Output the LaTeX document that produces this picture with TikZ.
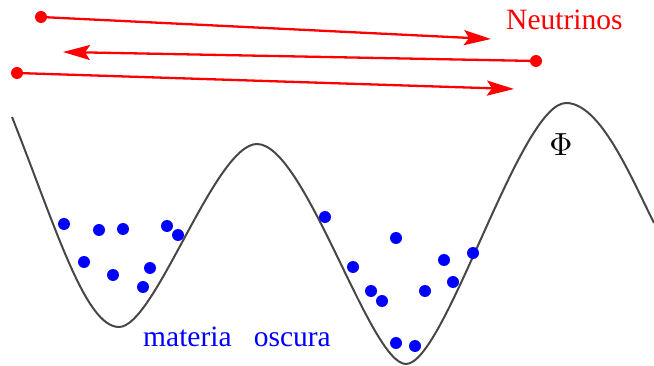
\documentclass[tikz,border=0pt]{standalone}
\usepackage{fontspec}
\setmainfont{Liberation Serif}
\newfontfamily\timesfont{Liberation Serif}
\usetikzlibrary{arrows.meta}

\tikzset{
    nu/.style={draw=red, line width=2.3pt, -{Stealth[length=27pt, width=15pt, inset=5pt]}},
    big/.style={font=\timesfont\fontsize{29.5}{32}\selectfont, inner sep=0pt},
}

\begin{document}
\begin{tikzpicture}[x=1pt, y=-1pt]
    \useasboundingbox (0,0) rectangle (654,366);

    \coordinate (s1) at (41,17);
    \coordinate (e1) at (491,39);

    \coordinate (s2) at (536,61);
    \coordinate (e2) at (63,52);

    \coordinate (s3) at (17,73);
    \coordinate (e3) at (514,89);

%    potential wells
    \coordinate (p0) at (12,117);
    \coordinate (p1) at (119,327);
    \coordinate (p2) at (257,144);
    \coordinate (p3) at (406,364);
    \coordinate (p4) at (566,103);
    \coordinate (p5) at (654,223);

    \draw[line width=2pt, black!72] (p0) .. controls (55,225) and (85,327) .. (p1)
        .. controls (155,327) and (215,144) .. (p2)
        .. controls (305,144) and (370,364) .. (p3)
        .. controls (445,364) and (520,103) .. (p4)
        .. controls (600,103) and (630,175) .. (p5);

    \draw[nu] (s1) -- (e1);
    \draw[nu] (s2) -- (e2);
    \draw[nu] (s3) -- (e3);
    \foreach \p in {s1,s2,s3} {
        \fill[red] (\p) circle (6pt);
    }

    \node[big, red, anchor=base west] (neu) at (506,30) {Neutrinos};
    \node[inner sep=0pt, scale=3.2] (phi) at (561,145) {$\Phi$};
    \node[big, blue, anchor=base west] (dm) at (143,347) {materia\ \ \ oscura};

    \foreach \x/\y in {64/224, 99/230, 123/229, 167/226, 178/235, 84/262, 113/275, 150/268, 143/287,
                       325/217, 396/238, 353/267, 371/291, 382/301, 425/291, 444/260, 453/282, 473/253,
                       396/343, 415/346} {
        \fill[blue] (\x,\y) circle (6pt);
    }
\end{tikzpicture}
\end{document}
